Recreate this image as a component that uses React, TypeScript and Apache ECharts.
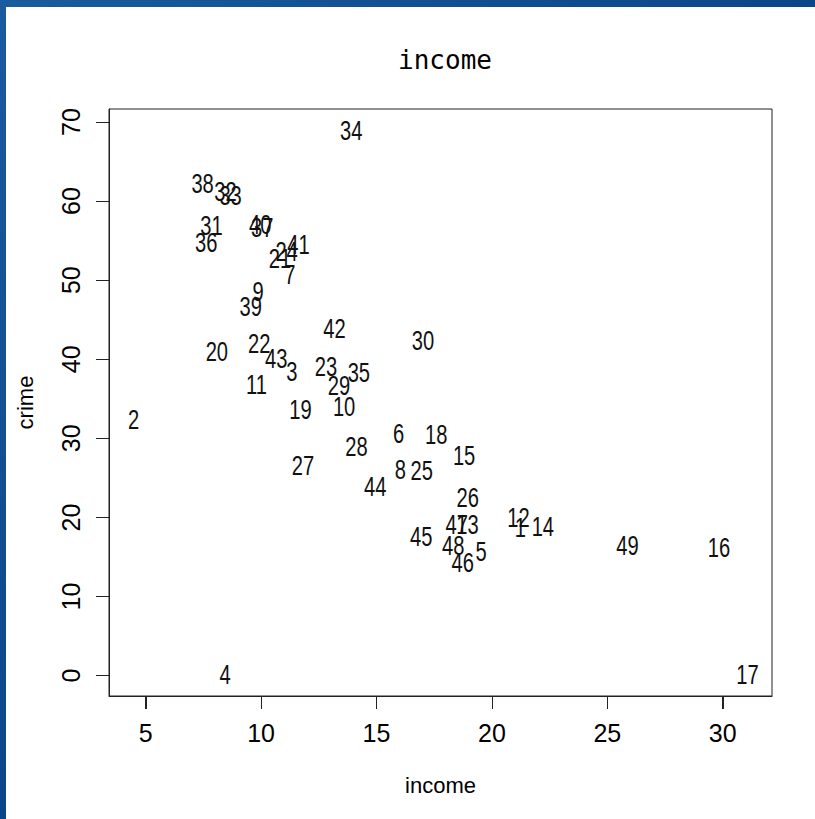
import React, { useEffect, useRef } from "react";
import * as echarts from "echarts";

const pointLabels = [
  1, 2, 3, 4, 5, 6, 7, 8, 9, 10, 11, 12, 13, 14, 15, 16, 17, 18, 19, 20, 21, 22, 23, 24, 25,
  26, 27, 28, 29, 30, 31, 32, 33, 34, 35, 36, 37, 38, 39, 40, 41, 42, 43, 44, 45, 46, 47, 48, 49,
];
const income = [
  21.232, 4.477, 11.337, 8.438, 19.531, 15.956, 11.252, 16.029, 9.873, 13.598, 9.798, 21.155,
  18.942, 22.207, 18.796, 29.833, 31.07, 17.586, 11.709, 8.085, 10.822, 9.918, 12.814, 11.107,
  16.961, 18.95, 11.813, 14.135, 13.38, 17.017, 7.856, 8.461, 8.681, 13.906, 14.236, 7.625,
  10.048, 7.467, 9.549, 9.963, 11.618, 13.185, 10.655, 14.948, 16.94, 18.739, 18.477, 18.324,
  25.873,
];
const crime = [
  18.802, 32.388, 38.426, 0.178, 15.726, 30.627, 50.732, 26.067, 48.585, 34.0, 36.869, 20.048,
  19.145, 18.905, 27.823, 16.241, 0.223, 30.516, 33.705, 40.969, 52.794, 41.968, 39.175, 53.71,
  25.962, 22.541, 26.645, 29.028, 36.663, 42.445, 56.92, 61.299, 60.75, 68.892, 38.297, 54.839,
  56.705, 62.275, 46.716, 57.066, 54.521, 43.962, 40.074, 23.974, 17.677, 14.306, 19.1, 16.531,
  16.491,
];
const xTicks = [5, 10, 15, 20, 25, 30];
const yTicks = [0, 10, 20, 30, 40, 50, 60, 70];

const X_MIN = 3.413;
const X_MAX = 32.134;
const Y_MIN = -2.57;
const Y_MAX = 71.64;

const AXIS_FONT = "'Liberation Sans', sans-serif";
// chart div sits at page (6, 7); all positions below are relative to it
const OX = 6;
const OY = 7;

export default function App() {
  const ref = useRef<HTMLDivElement>(null);
  useEffect(() => {
    const chart = echarts.init(ref.current!, null, { renderer: "svg" });
    const data = income.map((v, i) => [v, crime[i], pointLabels[i]]);
    chart.setOption({
      animation: false,
      backgroundColor: "#ffffff",
      title: {
        text: "income",
        left: 440 - OX,
        top: 60 - OY - 18,
        textAlign: "center",
        textStyle: {
          color: "#000",
          fontSize: 26,
          fontWeight: "normal",
          fontFamily: "'DejaVu Sans Mono', monospace",
        },
      },
      grid: {
        left: 108 - OX,
        top: 109 - OY,
        width: 664,
        height: 587,
        show: true,
        borderColor: "#222",
        borderWidth: 1,
      },
      xAxis: {
        type: "value",
        min: X_MIN,
        max: X_MAX,
        name: "income",
        nameLocation: "middle",
        nameGap: 78,
        nameTextStyle: { color: "#000", fontSize: 22, fontFamily: AXIS_FONT },
        axisLine: { show: true, onZero: false, lineStyle: { color: "#222" } },
        splitLine: { show: false },
        axisTick: {
          show: true,
          length: 13,
          customValues: xTicks,
          lineStyle: { color: "#222" },
        },
        axisLabel: {
          customValues: xTicks,
          margin: 24,
          color: "#000",
          fontSize: 25,
          fontFamily: AXIS_FONT,
        },
      },
      yAxis: {
        type: "value",
        min: Y_MIN,
        max: Y_MAX,
        name: "crime",
        nameLocation: "middle",
        nameGap: 73,
        nameTextStyle: { color: "#000", fontSize: 22, fontFamily: AXIS_FONT },
        axisLine: { show: true, onZero: false, lineStyle: { color: "#222" } },
        splitLine: { show: false },
        axisTick: {
          show: true,
          length: 13,
          customValues: yTicks,
          lineStyle: { color: "#222" },
        },
        axisLabel: {
          customValues: yTicks,
          rotate: 90,
          margin: 26,
          color: "#000",
          fontSize: 25,
          fontFamily: AXIS_FONT,
        },
      },
      series: [
        {
          type: "custom",
          coordinateSystem: "cartesian2d",
          data,
          clip: false,
          renderItem: (params: any, api: any) => {
            const p = api.coord([api.value(0), api.value(1)]);
            return {
              type: "text",
              x: p[0],
              y: p[1],
              scaleX: 0.72,
              style: {
                text: String(pointLabels[params.dataIndex]),
                fill: "#111",
                fontSize: 28,
                fontFamily: AXIS_FONT,
                align: "center",
                verticalAlign: "middle",
              },
            };
          },
        },
        {
          // x-axis tick marks below the box, placed through the axis scale
          type: "custom",
          coordinateSystem: "cartesian2d",
          data: xTicks.map((v) => [v, Y_MIN]),
          clip: false,
          silent: true,
          renderItem: (params: any, api: any) => {
            const p = api.coord([api.value(0), api.value(1)]);
            const x = Math.round(p[0]) + 0.5;
            const y = Math.round(p[1]);
            return {
              type: "line",
              shape: { x1: x, y1: y, x2: x, y2: y + 13 },
              style: { stroke: "#222", lineWidth: 1 },
            };
          },
        },
      ],
    });
    return () => chart.dispose();
  }, []);
  return (
    <div
      style={{
        position: "fixed",
        left: 0,
        top: 0,
        width: 815,
        height: 819,
        background: "linear-gradient(135deg, #1a5a9e 0%, #0b4689 50%, #08407f 100%)",
      }}
    >
      <div
        ref={ref}
        style={{ position: "absolute", left: OX, top: OY, width: 815 - OX, height: 819 - OY }}
      />
    </div>
  );
}
